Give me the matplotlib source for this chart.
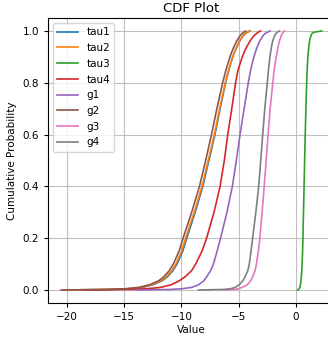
import matplotlib
matplotlib.use("Agg")
import matplotlib.pyplot as plt

# cumulative probability levels
probs = [0, 0.002, 0.005, 0.01, 0.02, 0.035, 0.05, 0.075, 0.1, 0.15, 0.2, 0.3, 0.4,
         0.5, 0.6, 0.7, 0.8, 0.85, 0.9, 0.93, 0.96, 0.98, 0.99, 0.995, 1.0]

# quantiles (x values) of each series at the probability levels above
tau1 = [-20.2, -16.2, -14.5, -13.4, -12.5, -11.7, -11.23, -10.73, -10.38, -9.88, -9.53, -8.8, -8.13,
        -7.6, -7.07, -6.62, -6.14, -5.85, -5.52, -5.25, -4.93, -4.63, -4.42, -4.25, -4.05]
tau2 = [-20.3, -16.3, -14.6, -13.5, -12.6, -11.8, -11.33, -10.83, -10.48, -9.98, -9.63, -8.88, -8.2,
        -7.66, -7.12, -6.66, -6.17, -5.87, -5.53, -5.25, -4.93, -4.62, -4.4, -4.22, -4.0]
tau3 = [0.15, 0.22, 0.28, 0.33, 0.39, 0.44, 0.47, 0.51, 0.54, 0.58, 0.61, 0.66, 0.71,
        0.76, 0.81, 0.87, 0.94, 0.98, 1.04, 1.1, 1.18, 1.3, 1.4, 1.55, 2.24]
tau4 = [-18.5, -14.5, -13.0, -11.8, -10.9, -10.2, -9.7, -9.1, -8.75, -8.2, -7.8, -7.15, -6.62,
        -6.25, -5.95, -5.6, -5.27, -5.05, -4.68, -4.4, -4.02, -3.7, -3.45, -3.3, -3.1]
g1 = [-14.0, -11.0, -9.9, -9.1, -8.5, -8.05, -7.8, -7.45, -7.2, -6.88, -6.58, -6.02, -5.55,
      -5.2, -4.88, -4.52, -4.16, -3.95, -3.67, -3.45, -3.18, -2.9, -2.7, -2.5, -2.25]
g2 = [-20.5, -16.5, -14.8, -13.7, -12.8, -12.0, -11.55, -11.05, -10.7, -10.2, -9.85, -9.1, -8.42,
      -7.88, -7.37, -6.9, -6.4, -6.1, -5.76, -5.5, -5.18, -4.9, -4.7, -4.55, -4.4]
g3 = [-6.3, -5.4, -5.0, -4.7, -4.25, -3.95, -3.78, -3.57, -3.45, -3.28, -3.15, -2.95, -2.77,
      -2.6, -2.43, -2.25, -2.02, -1.9, -1.72, -1.6, -1.45, -1.3, -1.2, -1.1, -1.0]
g4 = [-8.5, -6.3, -5.7, -5.3, -4.95, -4.65, -4.45, -4.2, -4.07, -3.92, -3.78, -3.5, -3.25,
      -3.07, -2.9, -2.72, -2.5, -2.4, -2.27, -2.17, -2.04, -1.88, -1.75, -1.62, -1.45]

names = ["tau1", "tau2", "tau3", "tau4", "g1", "g2", "g3", "g4"]
series = [tau1, tau2, tau3, tau4, g1, g2, g3, g4]

fig = plt.figure(figsize=(3.28, 3.40), dpi=100)
ax = fig.add_axes([0.146, 0.109, 0.875, 0.838])

for name, xs in zip(names, series):
    ax.plot(xs, probs, label=name, linewidth=1.2)

ax.set_xlim(-21.65, 3.4)
ax.set_ylim(-0.05, 1.05)
ax.set_xticks([-20, -15, -10, -5, 0])
ax.set_yticks([0.0, 0.2, 0.4, 0.6, 0.8, 1.0])
ax.tick_params(labelsize=7.5, width=0.8, length=3)
ax.grid(True, color="#b0b0b0", linewidth=0.8, alpha=0.8)
ax.set_title("CDF Plot", fontsize=9.5, pad=4)
ax.set_xlabel("Value", fontsize=7.5, labelpad=2)
ax.set_ylabel("Cumulative Probability", fontsize=7.5, labelpad=4)
ax.legend(loc="upper left", fontsize=7.5, handlelength=2.0, labelspacing=0.55, borderpad=0.4)
for s in ax.spines.values():
    s.set_linewidth(0.8)

fig.savefig("out.png", dpi=100)
